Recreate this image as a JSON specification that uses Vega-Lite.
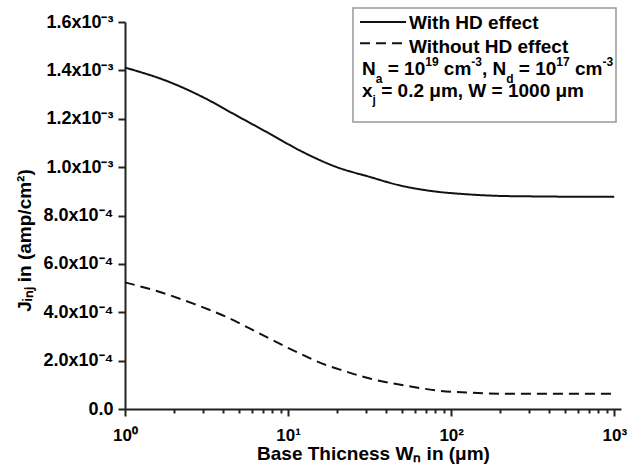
{
  "$schema": "https://vega.github.io/schema/vega-lite/v6.json",
  "width": 496,
  "height": 387,
  "autosize": {"type": "none"},
  "padding": {"left": 125, "top": 22, "right": 9, "bottom": 67},
  "background": "white",
  "config": {
    "view": {"stroke": null},
    "axis": {
      "grid": false,
      "domainColor": "#222",
      "domainWidth": 2,
      "tickColor": "#222",
      "tickWidth": 2,
      "labelFont": "Liberation Sans",
      "labelFontWeight": "bold",
      "labelColor": "black",
      "titleFont": "Liberation Sans",
      "titleFontWeight": "bold",
      "titleFontSize": 19,
      "titleColor": "black"
    }
  },
  "datasets": {
    "curves": [
      {"series": "With HD effect", "W": 1, "J": 0.0014116},
      {"series": "With HD effect", "W": 1.87, "J": 0.001352},
      {"series": "With HD effect", "W": 2.99, "J": 0.00129},
      {"series": "With HD effect", "W": 4.79, "J": 0.0012145},
      {"series": "With HD effect", "W": 7.67, "J": 0.001139},
      {"series": "With HD effect", "W": 12.27, "J": 0.001063},
      {"series": "With HD effect", "W": 19.7, "J": 0.001001},
      {"series": "With HD effect", "W": 31.5, "J": 0.00096},
      {"series": "With HD effect", "W": 48.1, "J": 0.000925},
      {"series": "With HD effect", "W": 76.9, "J": 0.0009006},
      {"series": "With HD effect", "W": 123, "J": 0.000888},
      {"series": "With HD effect", "W": 197, "J": 0.000881},
      {"series": "With HD effect", "W": 315, "J": 0.000879},
      {"series": "With HD effect", "W": 1000, "J": 0.000877},
      {"series": "Without HD effect", "W": 1, "J": 0.0005234},
      {"series": "Without HD effect", "W": 1.62, "J": 0.0004846},
      {"series": "Without HD effect", "W": 2.6, "J": 0.0004366},
      {"series": "Without HD effect", "W": 4.16, "J": 0.0003813},
      {"series": "Without HD effect", "W": 6.66, "J": 0.0003127},
      {"series": "Without HD effect", "W": 10.66, "J": 0.0002437},
      {"series": "Without HD effect", "W": 17.1, "J": 0.0001818},
      {"series": "Without HD effect", "W": 20.6, "J": 0.000164},
      {"series": "Without HD effect", "W": 30, "J": 0.00013},
      {"series": "Without HD effect", "W": 52.8, "J": 0.0000963},
      {"series": "Without HD effect", "W": 84.6, "J": 0.0000756},
      {"series": "Without HD effect", "W": 135, "J": 0.0000673},
      {"series": "Without HD effect", "W": 217, "J": 0.0000632},
      {"series": "Without HD effect", "W": 1000, "J": 0.0000632}
    ],
    "box": [{"x": 25, "x2": 1025, "y": 0.0016579, "y2": 0.0011866}],
    "samples": [
      {"series": "With HD effect", "x": 27.6, "x2": 52.9, "y": 0.0016},
      {"series": "Without HD effect", "x": 27.6, "x2": 52.9, "y": 0.0015119}
    ],
    "a1": [{"x": 28.4, "y": 0.0015711}],
    "a2": [{"x": 28.4, "y": 0.0014718}],
    "a3": [{"x": 28.4, "y": 0.0013809}],
    "a4": [{"x": 28.4, "y": 0.0012899}]
  },
  "layer": [
    {
      "data": {"name": "curves"},
      "mark": {"type": "line", "color": "#111", "strokeWidth": 2, "interpolate": "monotone"},
      "encoding": {
        "x": {
          "field": "W", "type": "quantitative",
          "scale": {"type": "log", "domain": [1, 1100]},
          "axis": {
            "orient": "bottom",
            "values": [1, 2, 3, 4, 5, 6, 7, 8, 9, 10, 20, 30, 40, 50, 60, 70, 80, 90, 100, 200, 300, 400, 500, 600, 700, 800, 900, 1000],
            "tickSize": {"condition": {"test": "datum.value == 1 || datum.value == 10 || datum.value == 100 || datum.value == 1000", "value": 7}, "value": 4},
            "labelExpr": "datum.value == 1 ? '10⁰' : datum.value == 10 ? '10¹' : datum.value == 100 ? '10²' : datum.value == 1000 ? '10³' : ''",
            "labelFontSize": 17,
            "labelPadding": 11,
            "labelFlush": false,
            "labelOverlap": false,
            "title": "Base Thicness Wₙ in (μm)",
            "titleY": 50,
            "titleBaseline": "alphabetic"
          }
        },
        "y": {
          "field": "J", "type": "quantitative",
          "scale": {"domain": [0, 0.0016]},
          "axis": {
            "orient": "left",
            "values": [0, 0.0001, 0.0002, 0.0003, 0.0004, 0.0005, 0.0006, 0.0007, 0.0008, 0.0009, 0.001, 0.0011, 0.0012, 0.0013, 0.0014, 0.0015, 0.0016],
            "tickSize": {"condition": {"test": "round(datum.value * 10000) % 2 == 0", "value": 7}, "value": 4},
            "labelExpr": "round(datum.value * 10000) % 2 == 1 ? '' : datum.value < 0.00001 ? '0.0' : datum.value < 0.00099 ? format(datum.value * 10000, '.1f') + 'x10⁻⁴' : format(datum.value * 1000, '.1f') + 'x10⁻³'",
            "labelFontSize": 18,
            "labelPadding": 5,
            "labelOverlap": false,
            "labelFlush": false,
            "title": "Jᵢₙⱼ in (amp/cm²)",
            "titleX": -101,
            "titleY": 218,
            "titleAngle": 270,
            "titleAlign": "center",
            "titleBaseline": "middle"
          }
        },
        "strokeDash": {
          "field": "series", "type": "nominal",
          "scale": {"domain": ["With HD effect", "Without HD effect"], "range": [[1, 0], [10, 6]]},
          "legend": null
        }
      }
    },
    {
      "data": {"name": "box"},
      "mark": {"type": "rect", "fill": "transparent", "stroke": "#999", "strokeWidth": 1.5},
      "encoding": {
        "x": {"field": "x", "type": "quantitative", "scale": {"type": "log", "domain": [1, 1100]}},
        "x2": {"field": "x2"},
        "y": {"field": "y", "type": "quantitative", "scale": {"domain": [0, 0.0016]}},
        "y2": {"field": "y2"}
      }
    },
    {
      "data": {"name": "samples"},
      "mark": {"type": "rule", "color": "#111", "strokeWidth": 2},
      "encoding": {
        "x": {"field": "x", "type": "quantitative", "scale": {"type": "log", "domain": [1, 1100]}},
        "x2": {"field": "x2"},
        "y": {"field": "y", "type": "quantitative", "scale": {"domain": [0, 0.0016]}},
        "strokeDash": {"field": "series", "type": "nominal", "legend": null}
      }
    },
    {
      "data": {"name": "a1"},
      "mark": {"type": "text", "text": "With HD effect", "dx": 47, "align": "left", "baseline": "alphabetic", "font": "Liberation Sans", "fontWeight": "bold", "fontSize": 19, "color": "black"},
      "encoding": {
        "x": {"field": "x", "type": "quantitative", "scale": {"type": "log", "domain": [1, 1100]}},
        "y": {"field": "y", "type": "quantitative", "scale": {"domain": [0, 0.0016]}}
      }
    },
    {
      "data": {"name": "a2"},
      "mark": {"type": "text", "text": "Without HD effect", "dx": 47, "align": "left", "baseline": "alphabetic", "font": "Liberation Sans", "fontWeight": "bold", "fontSize": 19, "color": "black"},
      "encoding": {
        "x": {"field": "x", "type": "quantitative", "scale": {"type": "log", "domain": [1, 1100]}},
        "y": {"field": "y", "type": "quantitative", "scale": {"domain": [0, 0.0016]}}
      }
    },
    {
      "data": {"name": "a3"},
      "mark": {"type": "text", "text": "N", "dx": 0, "align": "left", "baseline": "alphabetic", "font": "Liberation Sans", "fontWeight": "bold", "fontSize": 19, "color": "black"},
      "encoding": {
        "x": {"field": "x", "type": "quantitative", "scale": {"type": "log", "domain": [1, 1100]}},
        "y": {"field": "y", "type": "quantitative", "scale": {"domain": [0, 0.0016]}}
      }
    },
    {
      "data": {"name": "a3"},
      "mark": {"type": "text", "text": "a", "dx": 13.7, "dy": 8, "align": "left", "baseline": "alphabetic", "font": "Liberation Sans", "fontWeight": "bold", "fontSize": 12, "color": "black"},
      "encoding": {
        "x": {"field": "x", "type": "quantitative", "scale": {"type": "log", "domain": [1, 1100]}},
        "y": {"field": "y", "type": "quantitative", "scale": {"domain": [0, 0.0016]}}
      }
    },
    {
      "data": {"name": "a3"},
      "mark": {"type": "text", "text": "= 10", "dx": 25.7, "align": "left", "baseline": "alphabetic", "font": "Liberation Sans", "fontWeight": "bold", "fontSize": 19, "color": "black"},
      "encoding": {
        "x": {"field": "x", "type": "quantitative", "scale": {"type": "log", "domain": [1, 1100]}},
        "y": {"field": "y", "type": "quantitative", "scale": {"domain": [0, 0.0016]}}
      }
    },
    {
      "data": {"name": "a3"},
      "mark": {"type": "text", "text": "19", "dx": 63.2, "dy": -9, "align": "left", "baseline": "alphabetic", "font": "Liberation Sans", "fontWeight": "bold", "fontSize": 12, "color": "black"},
      "encoding": {
        "x": {"field": "x", "type": "quantitative", "scale": {"type": "log", "domain": [1, 1100]}},
        "y": {"field": "y", "type": "quantitative", "scale": {"domain": [0, 0.0016]}}
      }
    },
    {
      "data": {"name": "a3"},
      "mark": {"type": "text", "text": "cm", "dx": 81.8, "align": "left", "baseline": "alphabetic", "font": "Liberation Sans", "fontWeight": "bold", "fontSize": 19, "color": "black"},
      "encoding": {
        "x": {"field": "x", "type": "quantitative", "scale": {"type": "log", "domain": [1, 1100]}},
        "y": {"field": "y", "type": "quantitative", "scale": {"domain": [0, 0.0016]}}
      }
    },
    {
      "data": {"name": "a3"},
      "mark": {"type": "text", "text": "-3", "dx": 109.3, "dy": -9, "align": "left", "baseline": "alphabetic", "font": "Liberation Sans", "fontWeight": "bold", "fontSize": 12, "color": "black"},
      "encoding": {
        "x": {"field": "x", "type": "quantitative", "scale": {"type": "log", "domain": [1, 1100]}},
        "y": {"field": "y", "type": "quantitative", "scale": {"domain": [0, 0.0016]}}
      }
    },
    {
      "data": {"name": "a3"},
      "mark": {"type": "text", "text": ", N", "dx": 119.9, "align": "left", "baseline": "alphabetic", "font": "Liberation Sans", "fontWeight": "bold", "fontSize": 19, "color": "black"},
      "encoding": {
        "x": {"field": "x", "type": "quantitative", "scale": {"type": "log", "domain": [1, 1100]}},
        "y": {"field": "y", "type": "quantitative", "scale": {"domain": [0, 0.0016]}}
      }
    },
    {
      "data": {"name": "a3"},
      "mark": {"type": "text", "text": "d", "dx": 144.2, "dy": 8, "align": "left", "baseline": "alphabetic", "font": "Liberation Sans", "fontWeight": "bold", "fontSize": 12, "color": "black"},
      "encoding": {
        "x": {"field": "x", "type": "quantitative", "scale": {"type": "log", "domain": [1, 1100]}},
        "y": {"field": "y", "type": "quantitative", "scale": {"domain": [0, 0.0016]}}
      }
    },
    {
      "data": {"name": "a3"},
      "mark": {"type": "text", "text": "= 10", "dx": 156.8, "align": "left", "baseline": "alphabetic", "font": "Liberation Sans", "fontWeight": "bold", "fontSize": 19, "color": "black"},
      "encoding": {
        "x": {"field": "x", "type": "quantitative", "scale": {"type": "log", "domain": [1, 1100]}},
        "y": {"field": "y", "type": "quantitative", "scale": {"domain": [0, 0.0016]}}
      }
    },
    {
      "data": {"name": "a3"},
      "mark": {"type": "text", "text": "17", "dx": 194.3, "dy": -9, "align": "left", "baseline": "alphabetic", "font": "Liberation Sans", "fontWeight": "bold", "fontSize": 12, "color": "black"},
      "encoding": {
        "x": {"field": "x", "type": "quantitative", "scale": {"type": "log", "domain": [1, 1100]}},
        "y": {"field": "y", "type": "quantitative", "scale": {"domain": [0, 0.0016]}}
      }
    },
    {
      "data": {"name": "a3"},
      "mark": {"type": "text", "text": "cm", "dx": 213.0, "align": "left", "baseline": "alphabetic", "font": "Liberation Sans", "fontWeight": "bold", "fontSize": 19, "color": "black"},
      "encoding": {
        "x": {"field": "x", "type": "quantitative", "scale": {"type": "log", "domain": [1, 1100]}},
        "y": {"field": "y", "type": "quantitative", "scale": {"domain": [0, 0.0016]}}
      }
    },
    {
      "data": {"name": "a3"},
      "mark": {"type": "text", "text": "-3", "dx": 240.4, "dy": -9, "align": "left", "baseline": "alphabetic", "font": "Liberation Sans", "fontWeight": "bold", "fontSize": 12, "color": "black"},
      "encoding": {
        "x": {"field": "x", "type": "quantitative", "scale": {"type": "log", "domain": [1, 1100]}},
        "y": {"field": "y", "type": "quantitative", "scale": {"domain": [0, 0.0016]}}
      }
    },
    {
      "data": {"name": "a4"},
      "mark": {"type": "text", "text": "x", "dx": 0, "align": "left", "baseline": "alphabetic", "font": "Liberation Sans", "fontWeight": "bold", "fontSize": 19, "color": "black"},
      "encoding": {
        "x": {"field": "x", "type": "quantitative", "scale": {"type": "log", "domain": [1, 1100]}},
        "y": {"field": "y", "type": "quantitative", "scale": {"domain": [0, 0.0016]}}
      }
    },
    {
      "data": {"name": "a4"},
      "mark": {"type": "text", "text": "j", "dx": 10.6, "dy": 7, "align": "left", "baseline": "alphabetic", "font": "Liberation Sans", "fontWeight": "bold", "fontSize": 12, "color": "black"},
      "encoding": {
        "x": {"field": "x", "type": "quantitative", "scale": {"type": "log", "domain": [1, 1100]}},
        "y": {"field": "y", "type": "quantitative", "scale": {"domain": [0, 0.0016]}}
      }
    },
    {
      "data": {"name": "a4"},
      "mark": {"type": "text", "text": "= 0.2 μm, W = 1000 μm", "dx": 19.2, "align": "left", "baseline": "alphabetic", "font": "Liberation Sans", "fontWeight": "bold", "fontSize": 19, "color": "black"},
      "encoding": {
        "x": {"field": "x", "type": "quantitative", "scale": {"type": "log", "domain": [1, 1100]}},
        "y": {"field": "y", "type": "quantitative", "scale": {"domain": [0, 0.0016]}}
      }
    }
  ]
}
